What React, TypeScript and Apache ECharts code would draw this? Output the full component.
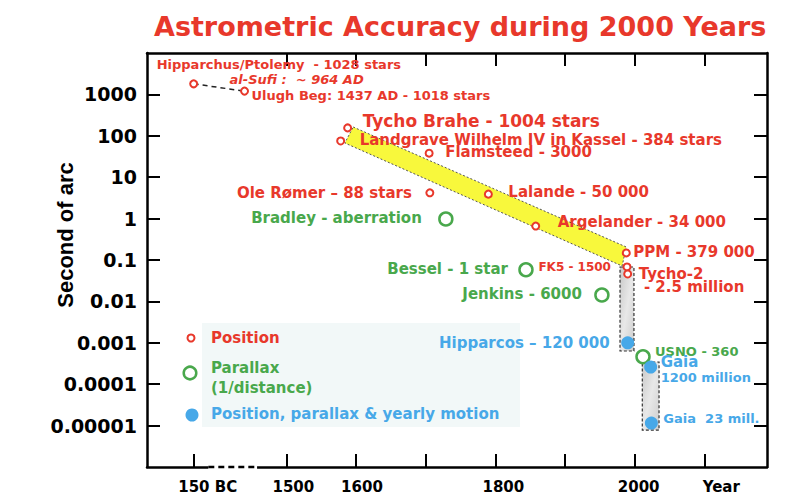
import React, { useEffect, useRef } from "react";
import * as echarts from "echarts";

// ---------- texts ----------
const chartTitle = "Astrometric Accuracy during 2000 Years";
const yAxisTitle = "Second of arc";
const alSufiNote = "al-Sufi :  ~ 964 AD";

// ---------- axes ----------
// x axis is broken: "150 BC" is placed left of the break, then 1440..2100 linear
const xMin = 1300;
const xMax = 2190;
const xBottomTicks = [1367, 1500, 1600, 1700, 1800, 1900, 2000, 2100];
const xTopTicks = [1500, 1600, 1700, 1800, 1900, 2000, 2100];
const xLabelValues = [1367, 1500, 1600, 1800, 2000, 2100];
const xLabelTexts = ["150 BC", "1500", "1600", "1800", "2000", "Year"];
const xBreak = [1388, 1458];

const yMin = 0.000001;
const yMax = 10000;
const yTickValues = [0.00001, 0.0001, 0.001, 0.01, 0.1, 1, 10, 100, 1000];
const yTickLabels = ["0.00001", "0.0001", "0.001", "0.01", "0.1", "1", "10", "100", "1000"];

// ---------- data: position (red) ----------
const positionNames = [
  "Hipparchus/Ptolemy  - 1028 stars",
  "Ulugh Beg: 1437 AD - 1018 stars",
  "Tycho Brahe - 1004 stars",
  "Landgrave Wilhelm IV in Kassel - 384 stars",
  "Flamsteed - 3000",
  "Ole Rømer – 88 stars",
  "Lalande - 50 000",
  "Argelander - 34 000",
  "PPM - 379 000",
  "FK5 - 1500",
  "Tycho-2\n - 2.5 million",
];
const positionYears = [1367, 1440, 1588, 1578, 1705, 1706, 1790, 1858, 1988, 1989, 1990];
const positionValues = [1800, 1200, 155, 75, 38, 4.2, 3.9, 0.66, 0.148, 0.068, 0.046];

// ---------- data: parallax (green) ----------
const parallaxNames = ["Bradley - aberration", "Bessel - 1 star", "Jenkins - 6000", "USNO - 360"];
const parallaxYears = [1729, 1844, 1953, 2012];
const parallaxValues = [0.98, 0.058, 0.0143, 0.00046];

// ---------- data: position, parallax & yearly motion (blue) ----------
const fullNames = ["Hipparcos – 120 000", "Gaia\n1200 million", "Gaia  23 mill."];
const fullYears = [1990, 2023, 2024];
const fullValues = [0.001, 0.00026, 0.0000115];

// ---------- yellow band (ground-based catalogues trend) ----------
const bandYears = [1596, 1988, 1982, 1584];
const bandValues = [163, 0.206, 0.0716, 67];

// ---------- grey boxes (space astrometry ranges) ----------
const boxYearFrom = [1979, 2011];
const boxYearTo = [1999, 2035];
const boxValueLow = [0.000634, 0.0000078];
const boxValueHigh = [0.0678, 0.000344];

// ---------- legend ----------
const legendTexts = ["Position", "Parallax\n(1/distance)", "Position, parallax & yearly motion"];

// ---------- styles ----------
const RED = "#e8382b";
const GREEN = "#49a84c";
const BLUE = "#47a8e8";
const FONT = "'DejaVu Sans', sans-serif";

type LL = { align: "left" | "right"; dx: number; dy: number; size: number; lineHeight?: number; rich?: boolean };
const positionLayout: LL[] = [
  { align: "left", dx: -37, dy: -19, size: 13 },
  { align: "left", dx: 7, dy: 4, size: 13 },
  { align: "left", dx: 15, dy: -7, size: 17 },
  { align: "left", dx: 19, dy: -1, size: 15 },
  { align: "left", dx: 16, dy: -1, size: 15 },
  { align: "right", dx: -18, dy: 0, size: 15 },
  { align: "left", dx: 20, dy: -2, size: 15 },
  { align: "left", dx: 22, dy: -4, size: 15 },
  { align: "left", dx: 7, dy: -1, size: 15 },
  { align: "right", dx: -16, dy: 0, size: 12 },
  { align: "left", dx: 11, dy: 6.5, size: 15, lineHeight: 13 },
];
const parallaxLayout: LL[] = [
  { align: "right", dx: -24, dy: -1, size: 15 },
  { align: "right", dx: -18, dy: -1, size: 15 },
  { align: "right", dx: -20, dy: -1, size: 15 },
  { align: "left", dx: 12, dy: -5, size: 13 },
];
const fullLayout: LL[] = [
  { align: "right", dx: -18, dy: 0, size: 15 },
  { align: "left", dx: 10, dy: 2.5, size: 13, lineHeight: 15, rich: true },
  { align: "left", dx: 12, dy: -5, size: 13 },
];
const xLabelShift = [14, 7, 6, 8, 4, 17];

function makePoints(names: string[], years: number[], values: number[], layout: LL[], color: string) {
  return names.map((name, i) => {
    const l = layout[i];
    const label: any = {
      show: true,
      position: "inside",
      align: l.align,
      verticalAlign: "middle",
      offset: [l.dx, l.dy],
      fontSize: l.size,
      fontWeight: "bold",
      fontFamily: FONT,
      color,
      opacity: 1,
      lineHeight: l.lineHeight || l.size,
      textBorderWidth: 0,
      formatter: "{b}",
    };
    if (l.rich) {
      const parts = name.split("\n");
      label.formatter = `{a|${parts[0]}}\n{b|${parts[1]}}`;
      label.rich = {
        a: { fontSize: 15, fontWeight: "bold", fontFamily: FONT, color, lineHeight: l.lineHeight },
        b: { fontSize: 13, fontWeight: "bold", fontFamily: FONT, color, lineHeight: l.lineHeight },
      };
    }
    return { name, value: [years[i], values[i]], label };
  });
}

function buildOption() {
  const axisLineStyle = { color: "#000", width: 2.5 };
  const tickStyle = { color: "#000", width: 2 };
  const rich: any = {};
  xLabelShift.forEach((s, i) => {
    rich["s" + i] = {
      fontSize: 15,
      fontWeight: "bold",
      fontFamily: FONT,
      color: "#000",
      padding: [0, 0, 0, 2 * s],
    };
  });

  return {
    animation: false,
    backgroundColor: "#ffffff",
    title: {
      text: chartTitle,
      left: 149,
      top: 8,
      textStyle: { color: RED, fontSize: 27, fontWeight: "bold", fontFamily: FONT },
    },
    grid: { left: 147, right: 26, top: 53, bottom: 28, containLabel: false, outerBoundsMode: "none" },
    xAxis: [
      {
        type: "value",
        position: "bottom",
        min: xMin,
        max: xMax,
        axisLine: { show: true, lineStyle: axisLineStyle },
        axisTick: { show: true, inside: true, length: 13, lineStyle: tickStyle, customValues: xBottomTicks },
        axisLabel: {
          show: true,
          margin: 12,
          customValues: xLabelValues,
          formatter: (v: number) => {
            let best = 0;
            xLabelValues.forEach((x, i) => {
              if (Math.abs(x - v) < Math.abs(xLabelValues[best] - v)) best = i;
            });
            return `{s${best}|${xLabelTexts[best]}}`;
          },
          rich,
        },
        splitLine: { show: false },
      },
      {
        type: "value",
        position: "top",
        min: xMin,
        max: xMax,
        axisLine: { show: true, lineStyle: axisLineStyle },
        axisTick: { show: true, inside: true, length: 13, lineStyle: tickStyle, customValues: xTopTicks },
        axisLabel: { show: false },
        splitLine: { show: false },
      },
    ],
    yAxis: [
      {
        type: "log",
        logBase: 10,
        position: "left",
        min: yMin,
        max: yMax,
        axisLine: { show: true, lineStyle: axisLineStyle },
        axisTick: { show: true, inside: true, length: 13, lineStyle: tickStyle, customValues: yTickValues },
        axisLabel: {
          show: true,
          margin: 10,
          customValues: yTickValues,
          fontSize: 19,
          fontWeight: "bold",
          fontFamily: FONT,
          color: "#000",
          formatter: (v: number) => {
            const e = Math.round(Math.log10(v));
            const idx = yTickValues.findIndex((t) => Math.round(Math.log10(t)) === e);
            return idx >= 0 ? yTickLabels[idx] : "";
          },
        },
        splitLine: { show: false },
        minorTick: { show: false },
      },
      {
        type: "log",
        logBase: 10,
        position: "right",
        min: yMin,
        max: yMax,
        axisLine: { show: true, lineStyle: axisLineStyle },
        axisTick: { show: true, inside: true, length: 13, lineStyle: tickStyle, customValues: yTickValues },
        axisLabel: { show: false },
        splitLine: { show: false },
        minorTick: { show: false },
      },
    ],
    graphic: [
      {
        type: "text",
        x: 65,
        y: 235,
        rotation: Math.PI / 2,
        z: 100,
        style: {
          text: yAxisTitle,
          fill: "#000",
          font: "bold 22px 'Liberation Sans', Arial, sans-serif",
          align: "center",
          verticalAlign: "middle",
        },
      },
      { type: "rect", z: 0, shape: { x: 202, y: 323, width: 318, height: 104 }, style: { fill: "#f2f8f8" } },
      { type: "circle", z: 100, shape: { cx: 191, cy: 338, r: 3.5 }, style: { fill: "#fff", stroke: RED, lineWidth: 2 } },
      {
        type: "text", z: 100, x: 211, y: 338,
        style: { text: legendTexts[0], fill: RED, font: `bold 15px ${FONT}`, verticalAlign: "middle" },
      },
      { type: "circle", z: 100, shape: { cx: 190, cy: 373, r: 6.3 }, style: { fill: "#fff", stroke: GREEN, lineWidth: 2.5 } },
      {
        type: "text", z: 100, x: 211, y: 378,
        style: { text: legendTexts[1], fill: GREEN, font: `bold 15px ${FONT}`, verticalAlign: "middle", lineHeight: 20 },
      },
      { type: "circle", z: 100, shape: { cx: 192, cy: 415, r: 6.5 }, style: { fill: BLUE } },
      {
        type: "text", z: 100, x: 211, y: 414,
        style: { text: legendTexts[2], fill: BLUE, font: `bold 15px ${FONT}`, verticalAlign: "middle" },
      },
    ],
    series: [
      {
        type: "custom",
        name: "band",
        coordinateSystem: "cartesian2d",
        silent: true,
        clip: false,
        z: 1,
        data: bandYears.map((yr, i) => [yr, bandValues[i]]),
        renderItem: (params: any, api: any) => {
          if (params.dataIndex !== 0) return null;
          const pts = bandYears.map((yr, i) => api.coord([yr, bandValues[i]]));
          return {
            type: "polygon",
            shape: { points: pts },
            style: { fill: "#f8f83c", stroke: "#555", lineWidth: 1, lineDash: [2, 2] },
          };
        },
      },
      {
        type: "custom",
        name: "boxes",
        coordinateSystem: "cartesian2d",
        silent: true,
        clip: false,
        z: 1,
        encode: { x: [0, 2], y: [1, 3] },
        data: boxYearFrom.map((x0, i) => [x0, boxValueLow[i], boxYearTo[i], boxValueHigh[i]]),
        renderItem: (params: any, api: any) => {
          const p0 = api.coord([api.value(0), api.value(1)]);
          const p1 = api.coord([api.value(2), api.value(3)]);
          return {
            type: "rect",
            shape: {
              x: Math.min(p0[0], p1[0]),
              y: Math.min(p0[1], p1[1]),
              width: Math.abs(p1[0] - p0[0]),
              height: Math.abs(p1[1] - p0[1]),
            },
            style: {
              fill: {
                type: "linear", x: 0, y: 0, x2: 1, y2: 1,
                colorStops: [
                  { offset: 0, color: "#c8c8c8" },
                  { offset: 0.5, color: "#e8e8e8" },
                  { offset: 1, color: "#cdcdcd" },
                ],
              },
              stroke: "#333",
              lineWidth: 1.2,
              lineDash: [3, 2],
            },
          };
        },
      },
      {
        type: "line",
        name: "ancient",
        silent: true,
        symbol: "none",
        z: 1,
        lineStyle: { color: "#222", width: 1.5, type: [5, 4] },
        data: [0, 1].map((i) => [positionYears[i], positionValues[i]]),
      },
      {
        type: "line",
        name: "break-bg",
        silent: true,
        symbol: "none",
        clip: false,
        z: 3,
        lineStyle: { color: "#fff", width: 5 },
        data: [[xBreak[0], yMin], [xBreak[1], yMin]],
      },
      {
        type: "line",
        name: "break",
        silent: true,
        symbol: "none",
        clip: false,
        z: 4,
        lineStyle: { color: "#000", width: 2.5, type: [6, 4] },
        data: [[xBreak[0], yMin], [xBreak[1], yMin]],
      },
      {
        type: "scatter",
        name: "Position",
        symbol: "circle",
        symbolSize: 7,
        z: 5,
        itemStyle: { color: "#fff", borderColor: RED, borderWidth: 2, opacity: 1 },
        data: makePoints(positionNames, positionYears, positionValues, positionLayout, RED),
      },
      {
        type: "scatter",
        name: "note",
        symbolSize: 0,
        z: 5,
        itemStyle: { opacity: 1 },
        data: [
          {
            name: alSufiNote,
            value: [positionYears[1], positionValues[1]],
            label: {
              show: true,
              position: "inside",
              align: "left",
              verticalAlign: "middle",
              offset: [-15, -12],
              formatter: "{b}",
              fontSize: 13,
              lineHeight: 13,
              fontStyle: "italic",
              fontWeight: "bold",
              fontFamily: FONT,
              color: RED,
              opacity: 1,
              textBorderWidth: 0,
            },
          },
        ],
      },
      {
        type: "scatter",
        name: "Parallax",
        symbol: "circle",
        symbolSize: 13,
        z: 6,
        itemStyle: { color: "#fff", borderColor: GREEN, borderWidth: 2.5, opacity: 1 },
        data: makePoints(parallaxNames, parallaxYears, parallaxValues, parallaxLayout, GREEN),
      },
      {
        type: "scatter",
        name: "Position, parallax & yearly motion",
        symbol: "circle",
        symbolSize: 13,
        z: 7,
        itemStyle: { color: BLUE, opacity: 1 },
        data: makePoints(fullNames, fullYears, fullValues, fullLayout, BLUE),
      },
    ],
  };
}

export default function App() {
  const ref = useRef<HTMLDivElement>(null);
  useEffect(() => {
    if (!ref.current) return;
    const chart = echarts.init(ref.current, null, { renderer: "svg" });
    chart.setOption(buildOption() as any);
    return () => chart.dispose();
  }, []);
  return (
    <div
      ref={ref}
      style={{ position: "fixed", left: 0, top: 0, width: 793, height: 495, background: "#fff" }}
    />
  );
}
